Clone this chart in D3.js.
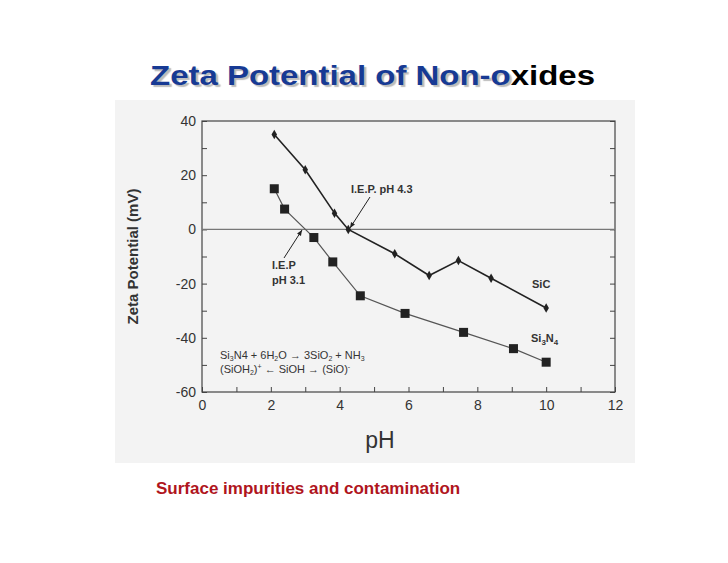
<!DOCTYPE html>
<html><head><meta charset="utf-8">
<script src="https://cdn.jsdelivr.net/npm/d3@7"></script>
<style>body{margin:0;background:#fff}</style>
</head><body>
<svg id="c" width="728" height="563"></svg>
<script>
const sicPH = [2.1, 3.0, 3.85, 4.25, 5.6, 6.6, 7.45, 8.4, 10];
const sicZeta = [35, 22, 6, 0, -9, -17, -11.5, -18, -29];
const sinPH = [2.1, 2.4, 3.25, 3.8, 4.6, 5.9, 7.6, 9.05, 10];
const sinZeta = [15, 7.5, -3, -12, -24.5, -31, -38, -44, -49];
const xTicks = [0, 2, 4, 6, 8, 10, 12];
const yTicks = [40, 20, 0, -20, -40, -60];

const svg = d3.select("#c");
const L = 202, R = 615, T = 121, B = 392;
const x = d3.scaleLinear().domain([0, 12]).range([L, R]);
const y = d3.scaleLinear().domain([-60, 40]).range([B, T]);

svg.append("rect").attr("x", 115).attr("y", 100).attr("width", 520).attr("height", 363).attr("fill", "#f3f3f3");

// title
const title = svg.append("text").attr("x", 150).attr("y", 85).attr("textLength", 445).attr("lengthAdjust", "spacingAndGlyphs")
  .attr("font-family", "Liberation Sans, Arial").attr("font-weight", "bold").attr("font-size", 27);
title.append("tspan").attr("fill", "#173a94").attr("style", "text-shadow:2px 2px 1px #bbb").text("Zeta Potential of Non-o");
title.append("tspan").attr("fill", "#000").text("xides");

svg.append("text").attr("x", 156).attr("y", 494).attr("font-family", "Liberation Sans, Arial")
  .attr("font-weight", "bold").attr("font-size", 17).attr("fill", "#b0151d").text("Surface impurities and contamination");

const g = svg.append("g").attr("font-family", "Liberation Sans, Arial").attr("fill", "#333");
g.append("rect").attr("x", L).attr("y", T).attr("width", R - L).attr("height", B - T)
  .attr("fill", "none").attr("stroke", "#444").attr("stroke-width", 1.2);

const fmt = d => String(d);
g.append("g").attr("transform", `translate(0,${B})`)
  .call(d3.axisTop(x).tickValues(d3.range(0, 13, 1)).tickSize(5).tickFormat(""))
  .call(a => a.select(".domain").remove());
g.append("g").attr("transform", `translate(0,${B})`)
  .call(d3.axisBottom(x).tickValues(xTicks).tickSize(0).tickPadding(8).tickFormat(fmt))
  .call(a => { a.select(".domain").remove(); a.selectAll("text").attr("font-size", 14).attr("fill", "#333"); });
g.append("g").attr("transform", `translate(${L},0)`)
  .call(d3.axisRight(y).tickValues(d3.range(-60, 41, 10)).tickSize(5).tickFormat(""))
  .call(a => a.select(".domain").remove());
g.append("g").attr("transform", `translate(${R},0)`)
  .call(d3.axisLeft(y).tickValues(d3.range(-60, 41, 10)).tickSize(5).tickFormat(""))
  .call(a => a.select(".domain").remove());
g.append("g").attr("transform", `translate(${L},0)`)
  .call(d3.axisLeft(y).tickValues(yTicks).tickSize(0).tickPadding(6).tickFormat(fmt))
  .call(a => { a.select(".domain").remove(); a.selectAll("text").attr("font-size", 14).attr("fill", "#333"); });
g.selectAll(".tick line").attr("stroke", "#444");

g.append("line").attr("x1", L).attr("x2", R).attr("y1", y(0)).attr("y2", y(0)).attr("stroke", "#777").attr("stroke-width", 1.2);

g.append("text").attr("transform", `translate(138,${(T + B) / 2}) rotate(-90)`).attr("text-anchor", "middle")
  .attr("font-size", 15).attr("font-weight", "bold").attr("fill", "#333").text("Zeta Potential (mV)");
g.append("text").attr("x", 380).attr("y", 448).attr("text-anchor", "middle").attr("font-size", 23).attr("fill", "#333").text("pH");

const line = d3.line().x(d => x(d[0])).y(d => y(d[1]));
const sic = d3.zip(sicPH, sicZeta), sin = d3.zip(sinPH, sinZeta);
g.append("path").datum(sin).attr("d", line).attr("fill", "none").attr("stroke", "#555").attr("stroke-width", 1.2);
g.append("path").datum(sic).attr("d", line).attr("fill", "none").attr("stroke", "#222").attr("stroke-width", 1.6);
g.selectAll(".sq").data(sin).join("rect").attr("x", d => x(d[0]) - 4.5).attr("y", d => y(d[1]) - 4.5)
  .attr("width", 9).attr("height", 9).attr("fill", "#222");
g.selectAll(".dm").data(sic).join("path").attr("transform", d => `translate(${x(d[0])},${y(d[1])})`)
  .attr("d", d3.symbol(d3.symbolDiamond, 26)).attr("fill", "#222");

// annotations
const ann = (tx, ty, t) => g.append("text").attr("x", tx).attr("y", ty).attr("font-size", 11).attr("font-weight", "bold").attr("fill", "#333").text(t);
ann(351, 193, "I.E.P. pH 4.3");
ann(272, 269, "I.E.P");
ann(272, 284, "pH 3.1");
ann(532, 288, "SiC");
const sn = g.append("text").attr("x", 531).attr("y", 342).attr("font-size", 11).attr("font-weight", "bold").attr("fill", "#333");
sn.append("tspan").text("Si"); sn.append("tspan").attr("font-size", 8).attr("dy", 3).text("3");
sn.append("tspan").attr("dy", -3).text("N"); sn.append("tspan").attr("font-size", 8).attr("dy", 3).text("4");
const arrow = (x1, y1, x2, y2) => {
  g.append("line").attr("x1", x1).attr("y1", y1).attr("x2", x2).attr("y2", y2).attr("stroke", "#222");
  const a = Math.atan2(y2 - y1, x2 - x1), s = 6;
  g.append("path").attr("d", `M${x2},${y2}L${x2 - s * Math.cos(a - 0.4)},${y2 - s * Math.sin(a - 0.4)}L${x2 - s * Math.cos(a + 0.4)},${y2 - s * Math.sin(a + 0.4)}Z`).attr("fill", "#222");
};
arrow(370, 197, 350, 228);
arrow(284, 258, 302, 230);

const eq1 = g.append("text").attr("x", 220).attr("y", 359).attr("font-size", 11).attr("fill", "#333");
eq1.append("tspan").text("Si"); eq1.append("tspan").attr("font-size", 7).attr("dy", 2).text("3");
eq1.append("tspan").attr("dy", -2).text("N4 + 6H"); eq1.append("tspan").attr("font-size", 7).attr("dy", 2).text("2");
eq1.append("tspan").attr("dy", -2).text("O  \u2192  3SiO"); eq1.append("tspan").attr("font-size", 7).attr("dy", 2).text("2");
eq1.append("tspan").attr("dy", -2).text(" + NH"); eq1.append("tspan").attr("font-size", 7).attr("dy", 2).text("3");
const eq2 = g.append("text").attr("x", 220).attr("y", 373).attr("font-size", 11).attr("fill", "#333");
eq2.append("tspan").text("(SiOH"); eq2.append("tspan").attr("font-size", 7).attr("dy", 2).text("2");
eq2.append("tspan").attr("dy", -2).text(")"); eq2.append("tspan").attr("font-size", 7).attr("dy", -4).text("+");
eq2.append("tspan").attr("dy", 4).text("  \u2190   SiOH  \u2192   (SiO)"); eq2.append("tspan").attr("font-size", 7).attr("dy", -4).text("-");
</script>
</body></html>
